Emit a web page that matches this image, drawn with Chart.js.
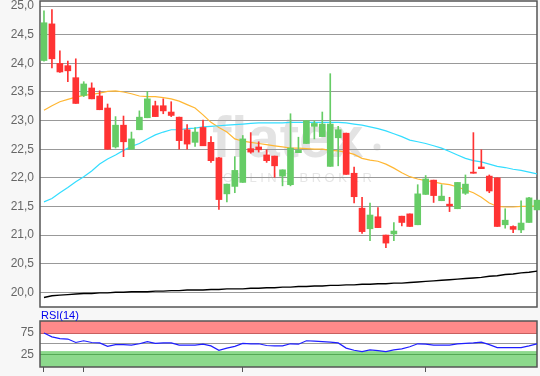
<!DOCTYPE html>
<html>
<head>
<meta charset="utf-8">
<script src="https://cdn.jsdelivr.net/npm/chart.js@4.4.1/dist/chart.umd.min.js"></script>
<style>
  body { margin: 0; background: #f7f7f7; }
  #wrap { position: relative; width: 540px; height: 376px; }
  canvas { position: absolute; left: 0; }
  #mainChart { top: 0; }
  #rsiChart { top: 310px; }
</style>
</head>
<body>
<div id="wrap">
  <canvas id="mainChart" width="540" height="310"></canvas>
  <canvas id="rsiChart" width="540" height="66"></canvas>
</div>
<script>
const opens = [24.05, 24.69, 24.00, 23.96, 23.75, 23.44, 23.57, 23.43, 23.22, 22.54,
  22.92, 22.50, 22.84, 23.05, 23.26, 23.26, 23.15, 23.06, 22.84, 22.62,
  22.88, 22.62, 22.35, 21.72, 21.85, 21.92, 22.51, 22.54, 22.40, 22.38,
  22.03, 21.88, 22.44, 22.60, 22.90, 22.72, 22.20, 22.70, 22.78, 22.08,
  21.47, 21.11, 21.32, 21.00, 21.02, 21.33, 21.37, 21.18, 21.71, 21.96,
  21.60, 21.54, 21.46, 21.73, 22.10, 22.19, 22.03, 22.00, 21.18, 21.15,
  21.09, 21.22, 21.44];
const highs = [24.92, 24.94, 24.22, 24.04, 24.08, 23.68, 23.66, 23.52, 23.29, 23.07,
  23.08, 22.80, 23.17, 23.51, 23.34, 23.38, 23.33, 23.06, 22.93, 22.88,
  23.01, 22.72, 22.36, 21.89, 22.37, 22.74, 22.79, 22.63, 22.49, 22.38,
  22.14, 23.12, 22.71, 23.00, 23.00, 23.15, 23.82, 22.90, 22.78, 22.19,
  21.66, 21.56, 21.48, 21.00, 21.22, 21.33, 21.37, 21.88, 22.04, 21.96,
  21.88, 21.66, 21.92, 22.05, 22.79, 22.49, 22.05, 22.00, 21.46, 21.16,
  21.60, 21.66, 21.61];
const lows = [24.04, 23.92, 23.84, 23.68, 23.30, 23.42, 23.38, 23.19, 22.50, 22.52,
  22.37, 22.50, 22.84, 23.05, 23.07, 23.12, 23.07, 22.50, 22.50, 22.55,
  22.56, 22.27, 21.45, 21.58, 21.74, 21.92, 22.43, 22.45, 22.27, 22.01,
  21.86, 21.86, 22.44, 22.60, 22.68, 22.72, 22.20, 22.21, 22.06, 21.56,
  21.03, 20.90, 21.13, 20.78, 20.90, 21.16, 21.15, 21.18, 21.71, 21.57,
  21.60, 21.41, 21.46, 21.71, 22.08, 22.16, 21.74, 21.15, 21.12, 21.04,
  21.04, 21.22, 21.44];
const closes = [24.71, 24.08, 23.85, 23.87, 23.30, 23.64, 23.38, 23.19, 22.50, 22.92,
  22.63, 22.68, 23.06, 23.38, 23.07, 23.17, 23.09, 22.65, 22.59, 22.80,
  22.56, 22.30, 21.62, 21.89, 22.13, 22.68, 22.45, 22.49, 22.30, 22.21,
  22.14, 22.52, 22.48, 23.00, 22.95, 22.94, 22.94, 22.84, 22.06, 21.67,
  21.06, 21.35, 21.13, 20.86, 21.07, 21.22, 21.15, 21.72, 21.98, 21.69,
  21.68, 21.51, 21.92, 21.89, 22.08, 22.16, 21.77, 21.15, 21.26, 21.10,
  21.21, 21.65, 21.61];
const ma20 = [23.18, 23.26, 23.33, 23.37, 23.41, 23.44, 23.46, 23.48, 23.51, 23.52,
  23.50, 23.47, 23.43, 23.42, 23.42, 23.40, 23.38, 23.34, 23.28, 23.22,
  23.10, 22.97, 22.88, 22.80, 22.68, 22.64, 22.62, 22.60, 22.58, 22.56,
  22.54, 22.52, 22.52, 22.51, 22.50, 22.50, 22.48, 22.47, 22.45, 22.41,
  22.34, 22.31, 22.29, 22.24, 22.17, 22.09, 22.02, 21.98, 21.95, 21.93,
  21.90, 21.88, 21.84, 21.79, 21.74, 21.66, 21.56, 21.50, 21.49, 21.49,
  21.50, 21.50, 21.51];
const ma50 = [21.58, 21.64, 21.74, 21.83, 21.93, 22.02, 22.12, 22.24, 22.33, 22.40,
  22.48, 22.55, 22.60, 22.68, 22.75, 22.80, 22.84, 22.84, 22.86, 22.87,
  22.89, 22.90, 22.91, 22.92, 22.93, 22.94, 22.95, 22.96, 22.96, 22.96,
  22.96, 22.97, 22.97, 22.97, 22.97, 22.97, 22.97, 22.97, 22.96, 22.94,
  22.92, 22.89, 22.86, 22.82, 22.77, 22.72, 22.66, 22.63, 22.60, 22.56,
  22.52, 22.46, 22.40, 22.34, 22.30, 22.28, 22.24, 22.20, 22.18, 22.15,
  22.13, 22.10, 22.07];
const ma200 = [19.91, 19.94, 19.95, 19.96, 19.97, 19.98, 19.98, 19.99, 19.99, 20.00,
  20.00, 20.01, 20.01, 20.01, 20.02, 20.02, 20.03, 20.03, 20.04, 20.04,
  20.04, 20.05, 20.05, 20.06, 20.06, 20.06, 20.07, 20.07, 20.08, 20.08,
  20.09, 20.09, 20.10, 20.10, 20.11, 20.11, 20.12, 20.12, 20.13, 20.13,
  20.14, 20.14, 20.15, 20.15, 20.16, 20.16, 20.17, 20.18, 20.19, 20.20,
  20.21, 20.22, 20.23, 20.24, 20.25, 20.26, 20.28, 20.29, 20.31, 20.32,
  20.34, 20.35, 20.37];
const rsi14 = [75, 66, 62, 61, 53, 57, 53, 52, 44, 48,
  48, 47, 50, 55, 51, 52, 52, 47, 47, 47,
  49, 45, 35, 40, 44, 51, 50, 50, 46, 45,
  45, 50, 49, 57, 56, 55, 54, 52, 40, 35,
  32, 36, 34, 32, 36, 38, 43, 50, 49, 47,
  47, 47, 50, 51, 52, 54, 48, 41, 41, 41,
  41, 45, 50];
const priceTicks = [20.0, 20.5, 21.0, 21.5, 22.0, 22.5, 23.0, 23.5, 24.0, 24.5, 25.0];
const rsiTicks = [25, 50, 75];
const dateTicks = [0, 5, 25, 48];

const UP = '#66cc66';
const DOWN = '#ff3333';

Chart.defaults.font.family = '"Liberation Sans", Arial, sans-serif';
Chart.defaults.font.size = 12;
Chart.defaults.color = '#666';

const idx = opens.map((v, i) => i);
const candleColors = idx.map(i => closes[i] >= opens[i] ? UP : DOWN);
const asPoints = arr => arr.map((v, i) => ({ x: i, y: v }));

// keep both panels on the same 40px left axis
function fixAxis(scale) {
    scale.width = 40;
    scale.paddingTop = 0;
    scale.paddingBottom = 0;
}

function xScale(display) {
    return {
        type: 'linear', min: -0.5, max: 62, offset: false, display: display,
        afterBuildTicks: s => { s.ticks = dateTicks.map(v => ({ value: v })); },
        ticks: { display: false },
        grid: { drawOnChartArea: false, drawTicks: true, tickLength: 5, color: '#555' },
        border: { display: false }
    };
}

const panelPlugin = {
    id: 'panel',
    beforeDraw(chart, args, opts) {
        const { ctx, chartArea: a } = chart;
        ctx.save();
        ctx.fillStyle = '#fff';
        ctx.fillRect(a.left, a.top, a.right - a.left, a.bottom - a.top);
        if (opts.bands) {
            const y = chart.scales.y;
            ctx.fillStyle = '#ff8a8a';
            ctx.fillRect(a.left, a.top, a.right - a.left, y.getPixelForValue(75) - a.top);
            ctx.fillStyle = '#8cd98c';
            ctx.fillRect(a.left, y.getPixelForValue(33), a.right - a.left, a.bottom - y.getPixelForValue(33));
        }
        if (opts.watermark) {
            ctx.fillStyle = '#e3e3e3';
            ctx.font = 'bold 58px "Liberation Sans", Arial, sans-serif';
            ctx.fillText('flatex', 212, 157);
            ctx.beginPath();
            ctx.arc(377, 147, 3.5, 0, Math.PI * 2);
            ctx.fill();
            ctx.fillStyle = '#e6e6e6';
            ctx.font = '13px "Liberation Sans", Arial, sans-serif';
            ctx.letterSpacing = '3.5px';
            ctx.fillText('ONLINE BROKER', 223, 182);
        }
        ctx.restore();
    },
    beforeDatasetsDraw(chart, args, opts) {
        const { ctx, chartArea: a } = chart;
        ctx.save();
        ctx.strokeStyle = '#555';
        ctx.lineWidth = 1.5;
        ctx.strokeRect(a.left, a.top, a.right - a.left, a.bottom - a.top);
        if (opts.label) {
            ctx.fillStyle = '#0000ee';
            ctx.font = '11px "Liberation Sans", Arial, sans-serif';
            ctx.fillText(opts.label, a.left + 1, a.top - 2);
        }
        ctx.restore();
    }
};

function initMainChart() {
    new Chart(document.getElementById('mainChart'), {
        type: 'bar',
        data: {
            datasets: [
                { type: 'line', data: asPoints(ma200), borderColor: '#000', borderWidth: 1.4, pointRadius: 0, order: 3 },
                { type: 'line', data: asPoints(ma50), borderColor: '#33ddff', borderWidth: 1.2, pointRadius: 0, order: 3 },
                { type: 'line', data: asPoints(ma20), borderColor: '#ffb733', borderWidth: 1.2, pointRadius: 0, order: 3 },
                { data: idx.map(i => ({ x: i, y: [lows[i], highs[i]] })), backgroundColor: candleColors,
                  barThickness: 1, grouped: false, clip: false, order: 2 },
                { data: idx.map(i => ({ x: i, y: [opens[i], closes[i]] })), backgroundColor: candleColors,
                  barThickness: 6, grouped: false, clip: false, order: 1 }
            ]
        },
        options: {
            responsive: false,
            animation: false,
            devicePixelRatio: 1,
            layout: { padding: { top: 1, bottom: 3, right: 3, left: 0 } },
            plugins: { legend: { display: false }, tooltip: { enabled: false }, panel: { watermark: true } },
            scales: {
                x: xScale(false),
                y: {
                    min: 19.743, max: 25.09,
                    afterBuildTicks: s => { s.ticks = priceTicks.map(v => ({ value: v })); },
                    afterFit: fixAxis,
                    ticks: { padding: 6, callback: v => v.toFixed(1).replace('.', ',') },
                    grid: { color: '#999', drawTicks: false },
                    border: { display: false }
                }
            }
        },
        plugins: [panelPlugin]
    });
}

function initRsiChart() {
    new Chart(document.getElementById('rsiChart'), {
        type: 'line',
        data: {
            datasets: [
                { data: asPoints(rsi14), borderColor: '#1f1fff', borderWidth: 1.2, pointRadius: 0 }
            ]
        },
        options: {
            responsive: false,
            animation: false,
            devicePixelRatio: 1,
            layout: { padding: { top: 11, bottom: 4, right: 3, left: 0 } },
            plugins: { legend: { display: false }, tooltip: { enabled: false }, panel: { bands: true, label: 'RSI(14)' } },
            scales: {
                x: xScale(true),
                y: {
                    min: -4, max: 103,
                    afterBuildTicks: s => { s.ticks = rsiTicks.map(v => ({ value: v })); },
                    afterFit: fixAxis,
                    ticks: { padding: 6, callback: v => v === 50 ? '' : String(v) },
                    grid: {
                        drawTicks: false,
                        color: c => c.tick.value === 75 ? '#c86060' : (c.tick.value === 25 ? '#55aa55' : '#999')
                    },
                    border: { display: false }
                }
            }
        },
        plugins: [panelPlugin]
    });
}

window.onload = function() {
    initMainChart();
    initRsiChart();
};
</script>
</body>
</html>
